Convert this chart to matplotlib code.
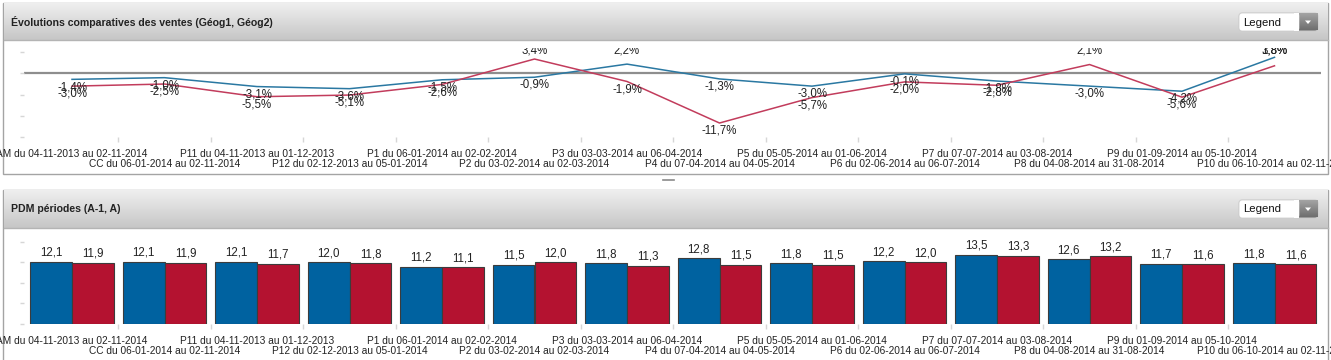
import matplotlib
matplotlib.use("Agg")
import matplotlib.pyplot as plt
import numpy as np
from matplotlib.patches import Rectangle, FancyBboxPatch, Polygon
from matplotlib.colors import LinearSegmentedColormap

plt.rcParams['font.family'] = ['Liberation Sans', 'DejaVu Sans']

# ---------------- data ----------------
categories = [
    "AM du 04-11-2013 au 02-11-2014",
    "CC du 06-01-2014 au 02-11-2014",
    "P11 du 04-11-2013 au 01-12-2013",
    "P12 du 02-12-2013 au 05-01-2014",
    "P1 du 06-01-2014 au 02-02-2014",
    "P2 du 03-02-2014 au 02-03-2014",
    "P3 du 03-03-2014 au 06-04-2014",
    "P4 du 07-04-2014 au 04-05-2014",
    "P5 du 05-05-2014 au 01-06-2014",
    "P6 du 02-06-2014 au 06-07-2014",
    "P7 du 07-07-2014 au 03-08-2014",
    "P8 du 04-08-2014 au 31-08-2014",
    "P9 du 01-09-2014 au 05-10-2014",
    "P10 du 06-10-2014 au 02-11-2014",
]
evol_geog1 = [-1.4, -1.0, -3.1, -3.6, -1.5, -0.9, 2.2, -1.3, -3.0, -0.1, -1.8, -3.0, -4.2, 3.8]
evol_geog2 = [-3.0, -2.5, -5.5, -5.1, -2.6, 3.4, -1.9, -11.7, -5.7, -2.0, -2.8, 2.1, -5.6, 1.8]
pdm_prev = [12.1, 12.1, 12.1, 12.0, 11.2, 11.5, 11.8, 12.8, 11.8, 12.2, 13.5, 12.6, 11.7, 11.8]
pdm_curr = [11.9, 11.9, 11.7, 11.8, 11.1, 12.0, 11.3, 11.5, 11.5, 12.0, 13.3, 13.2, 11.6, 11.6]
title_top = "Évolutions comparatives des ventes (Géog1, Géog2)"
title_bottom = "PDM périodes (A-1, A)"
legend_text = "Legend"

# ---------------- styles ----------------
W, H = 1331, 360
BLUE_LINE = '#2a78a2'
RED_LINE = '#c23c5c'
BLUE_BAR = '#0062a0'
RED_BAR = '#b41230'
TXT = '#222222'
TICKC = '#d6d6d6'

fig = plt.figure(figsize=(W / 100, H / 100), dpi=100, facecolor='white')

# background / panel decoration in pixel coordinates
bg = fig.add_axes([0, 0, 1, 1], zorder=0)
bg.axis('off')
hdr_cmap = LinearSegmentedColormap.from_list('hdr', ['#efefef', '#c6c6c6'])
btn_cmap = LinearSegmentedColormap.from_list('btn', ['#a4a4a4', '#6e6e6e'])
grad = np.linspace(0, 1, 64).reshape(-1, 1)


def panel(y0, y1, hb, title):
    bg.add_patch(Rectangle((3, y0), 1325, y1 - y0, facecolor='white',
                           edgecolor='#a4a4a4', lw=1, zorder=1))
    bg.imshow(grad, extent=[3.5, 1327.5, hb, y0 + 0.5], cmap=hdr_cmap,
              aspect='auto', zorder=2, interpolation='bilinear')
    bg.plot([3.5, 1327.5], [hb, hb], color='#b4b4b4', lw=1, zorder=3)
    bg.text(11, (y0 + hb) / 2 + 0.5, title, fontsize=7.6, fontweight='bold',
            va='center', ha='left', color=TXT, zorder=4)
    # legend drop-down
    ly = y0 + 10
    bg.add_patch(FancyBboxPatch((1239, ly), 79, 18,
                                boxstyle='round,pad=0,rounding_size=3',
                                facecolor='#7c7c7c', edgecolor='#c8c8c8',
                                lw=0.6, zorder=4))
    bg.imshow(grad, extent=[1298, 1317.5, ly + 17.5, ly + 0.5], cmap=btn_cmap,
              aspect='auto', zorder=4.5, interpolation='bilinear')
    bg.add_patch(FancyBboxPatch((1239, ly), 60, 18,
                                boxstyle='round,pad=0,rounding_size=3',
                                facecolor='white', edgecolor='#d0d0d0',
                                lw=0.6, zorder=5))
    bg.add_patch(Rectangle((1294, ly + 0.4), 4.5, 17.2, facecolor='white',
                           edgecolor='none', zorder=5.5))
    bg.add_patch(Polygon([[1305, ly + 7.5], [1311, ly + 7.5], [1308, ly + 11]],
                         closed=True, facecolor='white', edgecolor='none', zorder=6))
    bg.text(1243, ly + 9.5, legend_text, fontsize=8.2, va='center', ha='left',
            color='#111111', zorder=6)


panel(3, 174, 40, title_top)
panel(190, 364, 228, title_bottom)
bg.plot([663, 674], [180, 180], color='#8a8a8a', lw=1.2, zorder=3)
bg.set_xlim(0, W)
bg.set_ylim(H, 0)

L, R = 24, 1321
X0, DX = 72, 92.5
xlim = ((L - X0) / DX, (R - X0) / DX)


def axes_rect(top_px, bot_px):
    return [L / W, 1 - bot_px / H, (R - L) / W, (bot_px - top_px) / H]


def style_axes(ax, yticks):
    ax.set_facecolor('none')
    for s in ax.spines.values():
        s.set_visible(False)
    ax.set_xlim(*xlim)
    ax.set_yticks(yticks)
    ax.set_yticklabels([])
    ax.tick_params(axis='y', length=3, width=1, color=TICKC, direction='out')
    n = len(categories)
    ax.set_xticks(np.arange(n))
    ax.set_xticklabels([])
    ax.tick_params(axis='x', which='major', length=0)
    ax.set_xticks(np.arange(n - 1) + 0.5, minor=True)
    ax.tick_params(axis='x', which='minor', length=3.6, width=1, color=TICKC,
                   direction='out')
    for i, lab in enumerate(categories):
        off = -12.0 if i % 2 == 0 else -19.2
        ax.annotate(lab, xy=(i, 0), xycoords=ax.get_xaxis_transform(),
                    xytext=(0, off), textcoords='offset points',
                    ha='center', va='center', fontsize=7.3, color=TXT,
                    annotation_clip=False)


def fmt(v, suffix=''):
    return f"{v:.1f}".replace('.', ',') + suffix


# ---------------- top chart: lines ----------------
ax1 = fig.add_axes(axes_rect(48, 137), zorder=2)
style_axes(ax1, [-15, -10, -5, 0, 5])
ax1.set_ylim(-15, 6.0)
x = np.arange(len(categories))
ax1.axhline(0, color='#8e8e8e', lw=1.6, zorder=1)
ax1.plot(x, evol_geog1, color=BLUE_LINE, lw=1.1, zorder=3)
ax1.plot(x, evol_geog2, color=RED_LINE, lw=1.1, zorder=3)
for series in (evol_geog1, evol_geog2):
    for i, v in enumerate(series):
        if v >= 0:
            ax1.annotate(fmt(v, '%'), xy=(i, 1.0), xycoords=ax1.get_xaxis_transform(),
                         xytext=(0, -4.0), textcoords='offset points',
                         ha='center', va='baseline', fontsize=8.3, color=TXT,
                         clip_on=True, zorder=5)
        else:
            ax1.annotate(fmt(v, '%'), xy=(i, v), xytext=(0, -5.5),
                         textcoords='offset points', ha='center', va='center',
                         fontsize=8.3, color=TXT, clip_on=True, zorder=5)

# ---------------- bottom chart: bars ----------------
ax2 = fig.add_axes(axes_rect(235, 324), zorder=2)
style_axes(ax2, [0, 4, 8, 12, 16])
ax2.set_ylim(0, 17.35)
bw = 0.454
b1 = ax2.bar(x - bw / 2, pdm_prev, width=bw, color=BLUE_BAR, edgecolor='#3c3c3c',
             linewidth=0.8, zorder=3)
b2 = ax2.bar(x + bw / 2, pdm_curr, width=bw, color=RED_BAR, edgecolor='#3c3c3c',
             linewidth=0.8, zorder=3)
for bars, vals in ((b1, pdm_prev), (b2, pdm_curr)):
    for rect, v in zip(bars, vals):
        ax2.annotate(fmt(v), xy=(rect.get_x() + rect.get_width() / 2, v),
                     xytext=(0, 2.2), textcoords='offset points',
                     ha='center', va='bottom', fontsize=8.3, color=TXT,
                     clip_on=True, zorder=5)

fig.savefig('out.png', dpi=100, facecolor='white')
